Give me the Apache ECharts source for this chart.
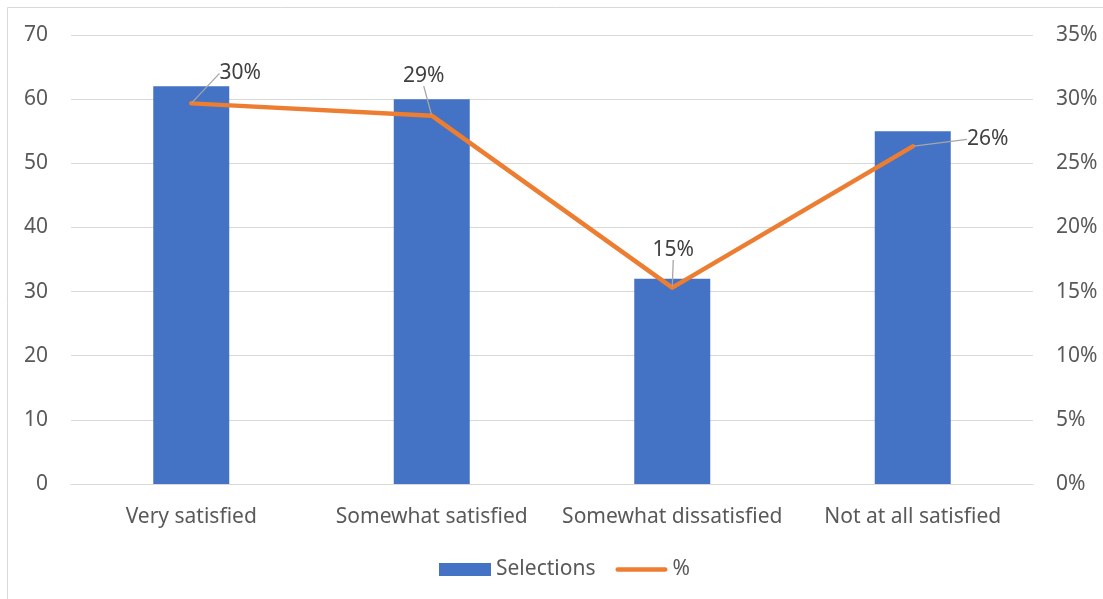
<!DOCTYPE html>
<html>
<head>
<meta charset="utf-8">
<script src="https://cdn.jsdelivr.net/npm/echarts@6/dist/echarts.min.js"></script>
<style>
  html, body { margin: 0; padding: 0; background: #fff; }
  #chart { width: 1103px; height: 599px; }
</style>
</head>
<body>
<div id="chart"></div>
<script>
// Survey responses: number of selections per satisfaction level and share of total
const categories = ['Very satisfied', 'Somewhat satisfied', 'Somewhat dissatisfied', 'Not at all satisfied'];
const selections = [62, 60, 32, 55];
const shares = [0.2967, 0.2871, 0.1531, 0.2632];
const shareLabels = ['30%', '29%', '15%', '26%'];
// Offsets of each percentage label from its point
const labelOffsets = [[49, -30], [-8, -40], [1, -38], [75, -7]];

const FONT = '"Noto Sans", "Open Sans", sans-serif';
const TEXT = '#595959';
const GRID = '#d9d9d9';
const FS = 21;
// Thin rounded stroke used as the legend marker of the line series
const LINE_ICON = 'path://M2.25,0 L49.75,0 A2.25,2.25 0 0 1 49.75,4.5 L2.25,4.5 A2.25,2.25 0 0 1 2.25,0 Z';

const chart = echarts.init(document.getElementById('chart'), null, { renderer: 'canvas' });

chart.setOption({
  animation: false,
  backgroundColor: '#ffffff',
  textStyle: { fontFamily: FONT },
  graphic: [{
    type: 'rect',
    shape: { x: 7.5, y: 7.5, width: 1200, height: 700 },
    style: { fill: 'none', stroke: GRID, lineWidth: 1 },
    silent: true,
    z: -10
  }],
  grid: { left: 71, right: 70, top: 35, bottom: 115, containLabel: false },
  legend: {
    top: 559,
    left: 439,
    padding: 0,
    itemGap: 20,
    itemWidth: 52,
    itemHeight: 13,
    symbolKeepAspect: true,
    textStyle: { color: TEXT, fontSize: FS, fontFamily: FONT },
    data: [
      { name: 'Selections', icon: 'rect' },
      { name: '%', icon: LINE_ICON, itemStyle: { color: '#ED7D31', borderWidth: 0 } }
    ]
  },
  xAxis: {
    type: 'category',
    data: categories,
    axisLine: { show: true, lineStyle: { color: GRID, width: 1 } },
    axisTick: { show: false },
    axisLabel: { color: TEXT, fontSize: FS, margin: 23, interval: 0, fontFamily: FONT }
  },
  yAxis: [{
    type: 'value',
    min: 0, max: 70, interval: 10,
    axisLine: { show: false },
    axisTick: { show: false },
    splitLine: { lineStyle: { color: GRID, width: 1 } },
    axisLabel: { color: TEXT, fontSize: FS, margin: 23, fontFamily: FONT }
  }, {
    type: 'value',
    min: 0, max: 0.35, interval: 0.05,
    position: 'right',
    axisLine: { show: false },
    axisTick: { show: false },
    splitLine: { show: false },
    axisLabel: {
      color: TEXT, fontSize: FS, margin: 23, fontFamily: FONT,
      formatter: v => Math.round(v * 100) + '%'
    }
  }],
  series: [{
    name: 'Selections',
    type: 'bar',
    data: selections,
    barWidth: 76,
    itemStyle: { color: '#4472C4' }
  }, {
    name: '%',
    type: 'line',
    yAxisIndex: 1,
    data: shares,
    symbol: 'circle',
    symbolSize: 2,
    showSymbol: true,
    itemStyle: { color: '#ED7D31' },
    lineStyle: { color: '#ED7D31', width: 4.5, cap: 'round', join: 'round' },
    label: {
      show: true,
      position: 'inside',
      color: '#404040',
      fontSize: FS,
      fontFamily: FONT,
      formatter: p => shareLabels[p.dataIndex]
    },
    labelLine: {
      show: true,
      lineStyle: { color: '#a6a6a6', width: 1.3 }
    },
    labelLayout: p => ({ dx: labelOffsets[p.dataIndex][0], dy: labelOffsets[p.dataIndex][1] }),
    z: 3
  }]
});
</script>
</body>
</html>
